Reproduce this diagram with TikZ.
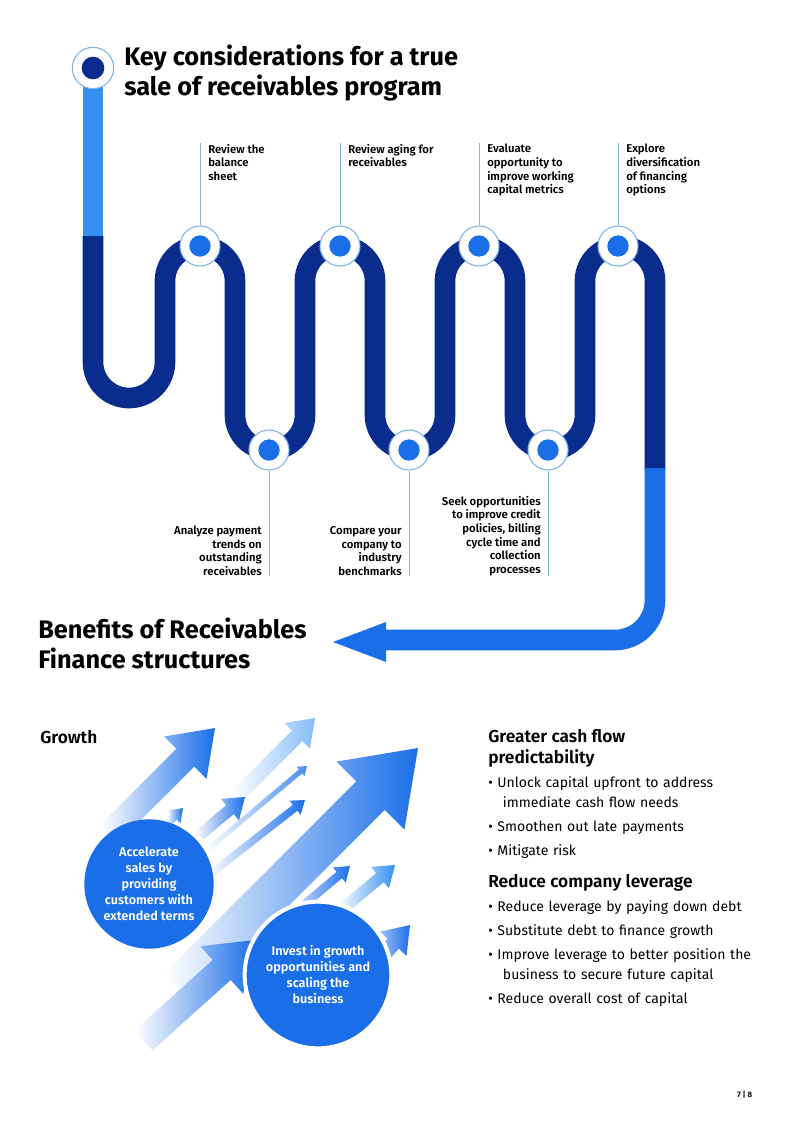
\documentclass[tikz,border=0pt]{standalone}
\usepackage{fontspec}
\setmainfont{Fira Sans}
\newfontfamily\semi{Fira Sans SemiBold}
\usetikzlibrary{calc}
\definecolor{navy}{HTML}{0A2C8C}
\definecolor{lblue}{HTML}{3390F2}
\definecolor{bblue}{HTML}{1A6FE8}
\definecolor{thin}{HTML}{7FB3E6}
\tikzset{
 road/.style={line width=15.5pt},
 conn/.style={draw=thin,line width=0.6pt},
 ring/.style={circle,draw=thin,line width=0.8pt,fill=white,minimum size=30pt,inner sep=0pt},
 dot/.style={circle,fill=bblue,minimum size=16pt,inner sep=0pt},
 lab/.style={font=\semi\fontsize{8.5}{10.2}\selectfont,align=left,inner sep=0pt},
 labr/.style={font=\semi\fontsize{8.5}{10.2}\selectfont,align=right,inner sep=0pt},
 title/.style={font=\bfseries\fontsize{19}{22}\selectfont,align=left,inner sep=0pt},
 head/.style={font=\semi\fontsize{13}{15.5}\selectfont,align=left,inner sep=0pt},
 bul/.style={font=\fontsize{10.5}{15}\selectfont,align=left,inner sep=0pt,text width=220pt},
 ctext/.style={font=\semi\fontsize{9.5}{12}\selectfont,align=center,text=white,inner sep=0pt},
}
\newcommand{\arrw}[6]{%
 \begin{scope}[shift={(#1,#2)},rotate=#3]
  \shade[left color=white,right color=#6]
   (0,0) -- (-1.4*#5,#5) -- (-1.4*#5,#5*0.42) -- (-#4,#5*0.42) -- (-#4,-#5*0.42)
   -- (-1.4*#5,-#5*0.42) -- (-1.4*#5,-#5) -- cycle;
 \end{scope}}
\begin{document}
\begin{tikzpicture}[x=0.75pt,y=-0.75pt]
\useasboundingbox[fill=white] (0,0) rectangle (793,1122);
% road
\draw[road,lblue] (93,68) -- (93,238);
\draw[road,navy] (93,236) -- (93,362) arc[start angle=180,end angle=0,radius=36] -- (165,281)
 arc[start angle=180,end angle=360,radius=35] -- (235,415)
 arc[start angle=180,end angle=0,radius=35] -- (305,281)
 arc[start angle=180,end angle=360,radius=35] -- (375,415)
 arc[start angle=180,end angle=0,radius=35] -- (445,281)
 arc[start angle=180,end angle=360,radius=35] -- (515,415)
 arc[start angle=180,end angle=0,radius=35] -- (585,281)
 arc[start angle=180,end angle=360,radius=35] -- (655,470);
\draw[road,bblue] (655,468) -- (655,600) arc[start angle=0,end angle=90,radius=40] -- (380,640);
\fill[bblue] (333,642) -- (386,622) -- (386,662) -- cycle;
% start circle
\node[ring,minimum size=31pt] (s) at (93,68) {};
\node[circle,fill=navy,minimum size=17pt,inner sep=0pt] at (s) {};
\node[title,anchor=north west] (t) at (124,45) {Key considerations for a true\\sale of receivables program};
% top stations
\foreach \n/\x/\txt in {a/200/{Review the\\balance\\sheet},b/340/{Review aging for\\receivables},c/479/{Evaluate\\opportunity to\\improve working\\capital metrics},d/618/{Explore\\diversification\\of financing\\options}}{
 \node[lab,anchor=north west] (l\n) at (\x+8,144) {\txt};
 \coordinate (c\n) at (\x,143);
 \node[ring] (r\n) at (\x,246) {};
 \draw[conn] (c\n) -- (r\n);
 \node[dot] at (r\n) {};
}
% bottom stations
\foreach \n/\x/\txt in {e/269/{Analyze payment\\trends on\\outstanding\\receivables},f/409/{Compare your\\company to\\industry\\benchmarks},g/548/{Seek opportunities\\to improve credit\\policies, billing\\cycle time and\\collection\\processes}}{
 \node[labr,anchor=south east] (l\n) at (\x-7,576) {\txt};
 \coordinate (c\n) at (\x,576);
 \node[ring] (r\n) at (\x,450) {};
 \draw[conn] (r\n) -- (c\n);
 \node[dot] at (r\n) {};
}
\node[title,anchor=north west] (b) at (38,618) {Benefits of Receivables\\Finance structures};
\node[head,anchor=north west] (g) at (40,730) {Growth};
% arrows
\arrw{215}{728}{45}{150}{30}{bblue}
\arrw{315}{718}{45}{110}{18}{lblue!60}
\arrw{307}{766}{40}{130}{6}{bblue!80}
\arrw{245}{797}{40}{60}{14}{bblue}
\arrw{305}{800}{38}{120}{9}{bblue}
\arrw{183}{808}{45}{20}{9}{bblue}
\arrw{350}{866}{40}{90}{10}{bblue}
\arrw{395}{865}{40}{70}{14}{lblue}
\arrw{410}{925}{48}{70}{18}{bblue}
\arrw{418}{748}{45}{340}{48}{bblue}
\arrw{255}{940}{42}{150}{32}{bblue}
\node[circle,fill=bblue,minimum size=97pt,inner sep=0pt] (k1) at (149,884) {};
\node[ctext] at (k1) {Accelerate\\sales by\\providing\\customers with\\extended terms};
\node[circle,fill=bblue,draw=white,line width=3pt,minimum size=110pt,inner sep=0pt] (k2) at (318,975) {};
\node[ctext] at (k2) {Invest in growth\\opportunities and\\scaling the\\business};
% right column
\node[head,anchor=north west] (h1) at (488,729) {Greater cash flow\\predictability};
\node[bul,anchor=north west] at (488,776) {%
\textbullet\ Unlock capital upfront to address\\\hspace*{11pt}immediate cash flow needs\\[3pt]
\textbullet\ Smoothen out late payments\\[3pt]
\textbullet\ Mitigate risk};
\node[head,anchor=north west] (h2) at (488,874) {Reduce company leverage};
\node[bul,anchor=north west] at (488,900) {%
\textbullet\ Reduce leverage by paying down debt\\[3pt]
\textbullet\ Substitute debt to finance growth\\[3pt]
\textbullet\ Improve leverage to better position the\\\hspace*{11pt}business to secure future capital\\[3pt]
\textbullet\ Reduce overall cost of capital};
\node[font=\semi\fontsize{6}{7}\selectfont,anchor=east] at (757,1095) {7 | 8};
\end{tikzpicture}
\end{document}
